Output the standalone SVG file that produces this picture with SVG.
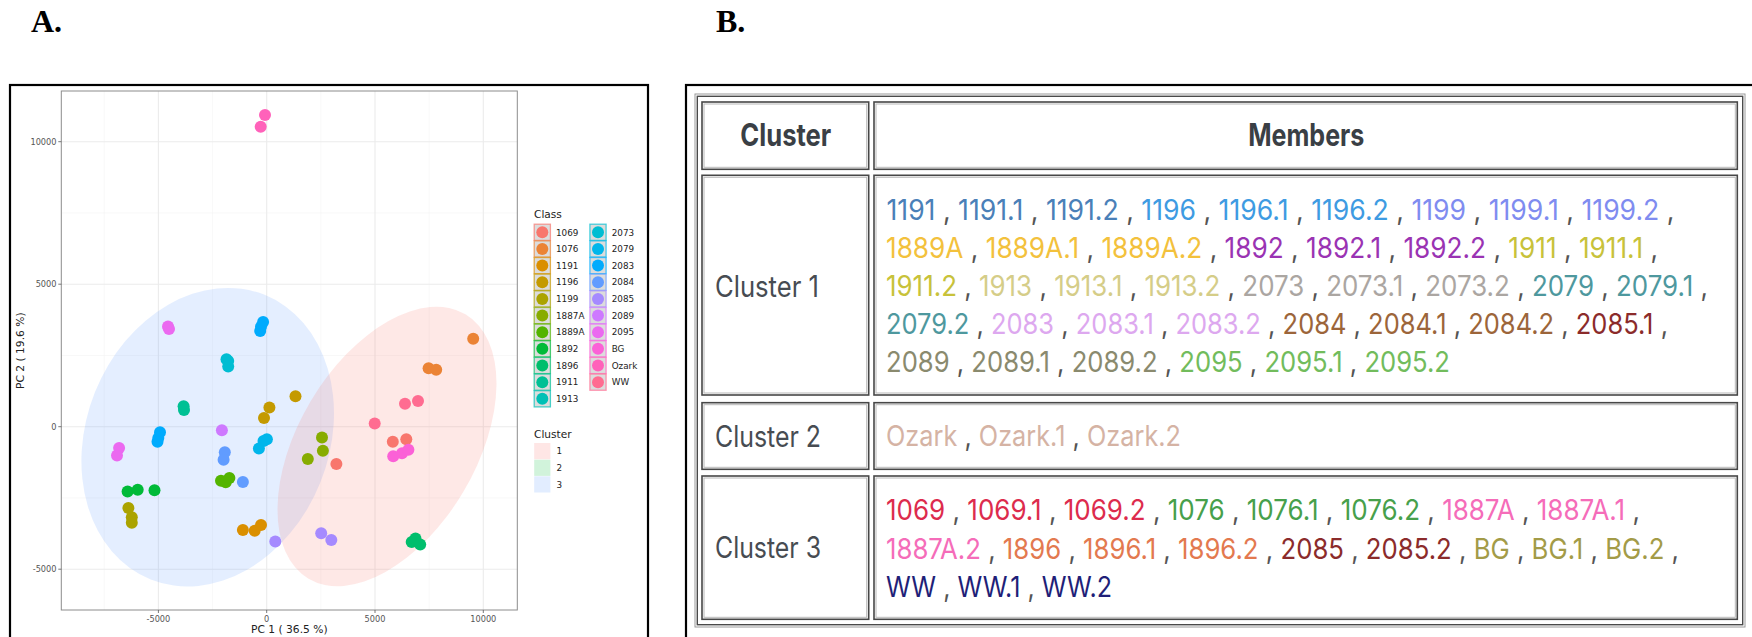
<svg xmlns="http://www.w3.org/2000/svg" width="1752" height="637" viewBox="0 0 1752 637">
<style>
.lbl{font-family:"Liberation Serif","Times New Roman",serif;font-weight:bold;font-size:32px;fill:#000}
.frame{fill:none;stroke:#000;stroke-width:2.2}
.gmaj{stroke:#ebebeb;stroke-width:1.1}
.gmin{stroke:#f4f4f4;stroke-width:0.6}
.pb{fill:none;stroke:#8c8c8c;stroke-width:1}
.tick{stroke:#555;stroke-width:0.8}
.tl{font-family:"DejaVu Sans",sans-serif;font-size:8.2px;fill:#555}
.at{font-family:"DejaVu Sans",sans-serif;font-size:10.7px;fill:#222}
.lt{font-family:"DejaVu Sans",sans-serif;font-size:10.6px;fill:#222}
.ll{font-family:"DejaVu Sans",sans-serif;font-size:8.8px;fill:#222}
.key{fill:#dcdcdc;stroke-width:1.3;stroke-opacity:0.7}
.ck{stroke:none}
.c1069{fill:#F8766D}.c1076{fill:#EB8335}.c1191{fill:#DA8F00}.c1196{fill:#C49A00}.c1199{fill:#ABA300}
.c1887A{fill:#87AC00}.c1889A{fill:#53B400}.c1892{fill:#00BA38}.c1896{fill:#00BE6C}.c1911{fill:#00C094}
.c1913{fill:#00C0B5}.c2073{fill:#00BDD2}.c2079{fill:#00B6EB}.c2083{fill:#00ABFD}.c2084{fill:#619CFF}
.c2085{fill:#A58AFF}.c2089{fill:#CE79FF}.c2095{fill:#EB69F0}.cBG{fill:#FB61D7}.cOzark{fill:#FF62BA}.cWW{fill:#FF6C91}
.cellO{fill:none;stroke:#474747;stroke-width:1.6}
.cellI{fill:none;stroke:#b8b8b8;stroke-width:1}
.th{font-family:Inter,Roboto,"Liberation Sans",sans-serif;font-weight:bold;font-size:27px;fill:#3a3f45}
.cl{font-family:Inter,Roboto,"Liberation Sans",sans-serif;font-size:25.5px;fill:#474c52}
.m{font-family:Inter,Roboto,"Liberation Sans",sans-serif;font-size:24.5px}
.s{fill:#555}
.a{fill:#4A80B8}.b{fill:#3E9BE2}.c{fill:#7F8CF0}.d{fill:#F3C13C}.e{fill:#9A33B3}.f{fill:#C8C23A}
.g{fill:#D5CD88}.h{fill:#ABA6A2}.i{fill:#4E989E}.j{fill:#DDA8EF}.k{fill:#9C653A}.l{fill:#8B2B2B}
.n{fill:#8A8A6E}.o{fill:#72BC5C}.p{fill:#D5B3A4}.q{fill:#DD2B4D}.r{fill:#47A04B}.t{fill:#F56CB9}
.u{fill:#E3794F}.v{fill:#A39B47}.w{fill:#1F1F78}
</style>

<g id="labels">
<text class="lbl" x="31" y="31.7">A.</text>
<text class="lbl" x="716" y="31.7">B.</text>
</g>

<g id="panelA">
<rect class="frame" x="10" y="85" width="638" height="600"/>
<g id="grid">
<line class="gmin" x1="104.25" y1="91" x2="104.25" y2="610"/>
<line class="gmin" x1="212.55" y1="91" x2="212.55" y2="610"/>
<line class="gmin" x1="320.85" y1="91" x2="320.85" y2="610"/>
<line class="gmin" x1="429.15" y1="91" x2="429.15" y2="610"/>
<line class="gmin" x1="61.3" y1="212.95" x2="517.3" y2="212.95"/>
<line class="gmin" x1="61.3" y1="355.45" x2="517.3" y2="355.45"/>
<line class="gmin" x1="61.3" y1="497.95" x2="517.3" y2="497.95"/>
<line class="gmaj" x1="158.4" y1="91" x2="158.4" y2="610"/>
<line class="gmaj" x1="266.7" y1="91" x2="266.7" y2="610"/>
<line class="gmaj" x1="375" y1="91" x2="375" y2="610"/>
<line class="gmaj" x1="483.3" y1="91" x2="483.3" y2="610"/>
<line class="gmaj" x1="61.3" y1="141.7" x2="517.3" y2="141.7"/>
<line class="gmaj" x1="61.3" y1="284.2" x2="517.3" y2="284.2"/>
<line class="gmaj" x1="61.3" y1="426.7" x2="517.3" y2="426.7"/>
<line class="gmaj" x1="61.3" y1="569.2" x2="517.3" y2="569.2"/>
</g>
<g id="ellipses">
<ellipse cx="207.7" cy="437.2" rx="121.4" ry="153.3" transform="rotate(21.8 207.7 437.2)" fill="#619CFF" fill-opacity="0.17"/>
<ellipse cx="387" cy="446.5" rx="88.8" ry="153.7" transform="rotate(30.7 387 446.5)" fill="#F8766D" fill-opacity="0.17"/>
</g>
<g id="points">
<circle class="cOzark" cx="265" cy="115" r="6"/><circle class="cOzark" cx="260.7" cy="126.7" r="6"/>
<circle class="c2095" cx="168" cy="326.5" r="6"/><circle class="c2095" cx="169" cy="329" r="6"/>
<circle class="c2083" cx="263.1" cy="322" r="6"/><circle class="c2083" cx="261" cy="326.7" r="6"/><circle class="c2083" cx="260.2" cy="331" r="6"/>
<circle class="c2073" cx="226.5" cy="359.3" r="6"/><circle class="c2073" cx="228.2" cy="361.1" r="6"/><circle class="c2073" cx="228.2" cy="366.5" r="6"/>
<circle class="c1911" cx="183.6" cy="406.3" r="6"/><circle class="c1911" cx="184" cy="410" r="6"/>
<circle class="c1196" cx="295.5" cy="396.2" r="6"/><circle class="c1196" cx="269.4" cy="407.4" r="6"/><circle class="c1196" cx="264" cy="417.9" r="6"/>
<circle class="c2089" cx="221.9" cy="430.2" r="6"/>
<circle class="c2083" cx="160" cy="432.3" r="6"/><circle class="c2083" cx="158.3" cy="438.1" r="6"/><circle class="c2083" cx="157.5" cy="441.7" r="6"/>
<circle class="c2095" cx="119.1" cy="447.9" r="6"/><circle class="c2095" cx="117" cy="455.5" r="6"/>
<circle class="c2079" cx="266.9" cy="439.2" r="6"/><circle class="c2079" cx="263.5" cy="441" r="6"/><circle class="c2079" cx="258.9" cy="448.6" r="6"/>
<circle class="c2084" cx="224.8" cy="452.2" r="6"/><circle class="c2084" cx="223.6" cy="459.8" r="6"/>
<circle class="c1887A" cx="322" cy="437.4" r="6"/><circle class="c1887A" cx="322.9" cy="450.8" r="6"/><circle class="c1887A" cx="307.8" cy="459.1" r="6"/>
<circle class="c1069" cx="336.4" cy="464.1" r="6"/>
<circle class="cWW" cx="374.7" cy="423.6" r="6"/><circle class="cWW" cx="405" cy="403.8" r="6"/><circle class="cWW" cx="418" cy="400.9" r="6"/>
<circle class="c1076" cx="473.2" cy="338.7" r="6"/><circle class="c1076" cx="428.6" cy="368.3" r="6"/><circle class="c1076" cx="436.2" cy="369.8" r="6"/>
<circle class="c1069" cx="392.8" cy="441.7" r="6"/><circle class="c1069" cx="406.3" cy="439.2" r="6"/>
<circle class="cBG" cx="393.2" cy="456.2" r="6"/><circle class="cBG" cx="402" cy="453.3" r="6"/><circle class="cBG" cx="408.4" cy="449.7" r="6"/>
<circle class="c1889A" cx="221" cy="480.8" r="6"/><circle class="c1889A" cx="225.7" cy="482.2" r="6"/><circle class="c1889A" cx="229.4" cy="477.9" r="6"/>
<circle class="c2084" cx="242.9" cy="481.9" r="6"/>
<circle class="c1892" cx="127.6" cy="491.6" r="6"/><circle class="c1892" cx="137.7" cy="489.8" r="6"/><circle class="c1892" cx="154.5" cy="490.2" r="6"/>
<circle class="c1199" cx="128.4" cy="507.9" r="6"/><circle class="c1199" cx="131.8" cy="517.3" r="6"/><circle class="c1199" cx="131.8" cy="522.7" r="6"/>
<circle class="c1191" cx="242.9" cy="530" r="6"/><circle class="c1191" cx="254.7" cy="530.7" r="6"/><circle class="c1191" cx="261" cy="524.9" r="6"/>
<circle class="c2085" cx="275.3" cy="541.5" r="6"/><circle class="c2085" cx="321.2" cy="533.2" r="6"/><circle class="c2085" cx="331.3" cy="540.1" r="6"/>
<circle class="c1896" cx="411.7" cy="541.9" r="6"/><circle class="c1896" cx="415.5" cy="538.6" r="6"/><circle class="c1896" cx="420.2" cy="544.4" r="6"/>
</g>
<rect class="pb" x="61.3" y="91" width="456" height="519"/>
<g id="axes">
<line class="tick" x1="158.4" y1="610" x2="158.4" y2="613"/>
<line class="tick" x1="266.7" y1="610" x2="266.7" y2="613"/>
<line class="tick" x1="375" y1="610" x2="375" y2="613"/>
<line class="tick" x1="483.3" y1="610" x2="483.3" y2="613"/>
<line class="tick" x1="58.3" y1="141.7" x2="61.3" y2="141.7"/>
<line class="tick" x1="58.3" y1="284.2" x2="61.3" y2="284.2"/>
<line class="tick" x1="58.3" y1="426.7" x2="61.3" y2="426.7"/>
<line class="tick" x1="58.3" y1="569.2" x2="61.3" y2="569.2"/>
<text class="tl" x="158.4" y="621.7" text-anchor="middle">-5000</text>
<text class="tl" x="266.7" y="621.7" text-anchor="middle">0</text>
<text class="tl" x="375" y="621.7" text-anchor="middle">5000</text>
<text class="tl" x="483.3" y="621.7" text-anchor="middle">10000</text>
<text class="tl" x="56.5" y="144.6" text-anchor="end">10000</text>
<text class="tl" x="56.5" y="287.1" text-anchor="end">5000</text>
<text class="tl" x="56.5" y="429.6" text-anchor="end">0</text>
<text class="tl" x="56.5" y="572.1" text-anchor="end">-5000</text>
<text class="at" x="289.3" y="633" text-anchor="middle">PC 1 ( 36.5 %)</text>
<text class="at" x="24" y="350.7" text-anchor="middle" transform="rotate(-90 24 350.7)">PC 2 ( 19.6 %)</text>
</g>
<g id="legendClass">
<text class="lt" x="534" y="218">Class</text>
<rect class="key" x="534.2" y="224.2" width="16.2" height="16.2" stroke="#F8766D"/><circle class="c1069" cx="542.3" cy="232.3" r="6"/><text class="ll" x="556" y="235.5">1069</text>
<rect class="key" x="534.2" y="240.85" width="16.2" height="16.2" stroke="#EB8335"/><circle class="c1076" cx="542.3" cy="248.95" r="6"/><text class="ll" x="556" y="252.15">1076</text>
<rect class="key" x="534.2" y="257.5" width="16.2" height="16.2" stroke="#DA8F00"/><circle class="c1191" cx="542.3" cy="265.6" r="6"/><text class="ll" x="556" y="268.8">1191</text>
<rect class="key" x="534.2" y="274.15" width="16.2" height="16.2" stroke="#C49A00"/><circle class="c1196" cx="542.3" cy="282.25" r="6"/><text class="ll" x="556" y="285.45">1196</text>
<rect class="key" x="534.2" y="290.8" width="16.2" height="16.2" stroke="#ABA300"/><circle class="c1199" cx="542.3" cy="298.9" r="6"/><text class="ll" x="556" y="302.1">1199</text>
<rect class="key" x="534.2" y="307.45" width="16.2" height="16.2" stroke="#87AC00"/><circle class="c1887A" cx="542.3" cy="315.55" r="6"/><text class="ll" x="556" y="318.75">1887A</text>
<rect class="key" x="534.2" y="324.1" width="16.2" height="16.2" stroke="#53B400"/><circle class="c1889A" cx="542.3" cy="332.2" r="6"/><text class="ll" x="556" y="335.4">1889A</text>
<rect class="key" x="534.2" y="340.75" width="16.2" height="16.2" stroke="#00BA38"/><circle class="c1892" cx="542.3" cy="348.85" r="6"/><text class="ll" x="556" y="352.05">1892</text>
<rect class="key" x="534.2" y="357.4" width="16.2" height="16.2" stroke="#00BE6C"/><circle class="c1896" cx="542.3" cy="365.5" r="6"/><text class="ll" x="556" y="368.7">1896</text>
<rect class="key" x="534.2" y="374.05" width="16.2" height="16.2" stroke="#00C094"/><circle class="c1911" cx="542.3" cy="382.15" r="6"/><text class="ll" x="556" y="385.35">1911</text>
<rect class="key" x="534.2" y="390.7" width="16.2" height="16.2" stroke="#00C0B5"/><circle class="c1913" cx="542.3" cy="398.8" r="6"/><text class="ll" x="556" y="402">1913</text>
<rect class="key" x="589.9" y="224.2" width="16.2" height="16.2" stroke="#00BDD2"/><circle class="c2073" cx="598" cy="232.3" r="6"/><text class="ll" x="611.7" y="235.5">2073</text>
<rect class="key" x="589.9" y="240.85" width="16.2" height="16.2" stroke="#00B6EB"/><circle class="c2079" cx="598" cy="248.95" r="6"/><text class="ll" x="611.7" y="252.15">2079</text>
<rect class="key" x="589.9" y="257.5" width="16.2" height="16.2" stroke="#00ABFD"/><circle class="c2083" cx="598" cy="265.6" r="6"/><text class="ll" x="611.7" y="268.8">2083</text>
<rect class="key" x="589.9" y="274.15" width="16.2" height="16.2" stroke="#619CFF"/><circle class="c2084" cx="598" cy="282.25" r="6"/><text class="ll" x="611.7" y="285.45">2084</text>
<rect class="key" x="589.9" y="290.8" width="16.2" height="16.2" stroke="#A58AFF"/><circle class="c2085" cx="598" cy="298.9" r="6"/><text class="ll" x="611.7" y="302.1">2085</text>
<rect class="key" x="589.9" y="307.45" width="16.2" height="16.2" stroke="#CE79FF"/><circle class="c2089" cx="598" cy="315.55" r="6"/><text class="ll" x="611.7" y="318.75">2089</text>
<rect class="key" x="589.9" y="324.1" width="16.2" height="16.2" stroke="#EB69F0"/><circle class="c2095" cx="598" cy="332.2" r="6"/><text class="ll" x="611.7" y="335.4">2095</text>
<rect class="key" x="589.9" y="340.75" width="16.2" height="16.2" stroke="#FB61D7"/><circle class="cBG" cx="598" cy="348.85" r="6"/><text class="ll" x="611.7" y="352.05">BG</text>
<rect class="key" x="589.9" y="357.4" width="16.2" height="16.2" stroke="#FF62BA"/><circle class="cOzark" cx="598" cy="365.5" r="6"/><text class="ll" x="611.7" y="368.7">Ozark</text>
<rect class="key" x="589.9" y="374.05" width="16.2" height="16.2" stroke="#FF6C91"/><circle class="cWW" cx="598" cy="382.15" r="6"/><text class="ll" x="611.7" y="385.35">WW</text>
</g>
<g id="legendCluster">
<text class="lt" x="534" y="437.5">Cluster</text>
<rect class="ck" x="534.2" y="443" width="16.2" height="16.2" fill="#F8766D" fill-opacity="0.18"/><text class="ll" x="556.6" y="454.3">1</text>
<rect class="ck" x="534.2" y="459.7" width="16.2" height="16.2" fill="#00BA38" fill-opacity="0.18"/><text class="ll" x="556.6" y="471">2</text>
<rect class="ck" x="534.2" y="476.3" width="16.2" height="16.2" fill="#619CFF" fill-opacity="0.18"/><text class="ll" x="556.6" y="487.6">3</text>
</g>
</g>

<g id="panelB">
<rect class="frame" x="686" y="85" width="1080" height="600"/>
<g id="table">
<rect fill="none" stroke="#9a9a9a" stroke-width="1" x="695" y="94" width="1050" height="533"/>
<rect fill="none" stroke="#4a4a4a" stroke-width="1.4" x="697.3" y="96.3" width="1045.4" height="528.4"/>
<g id="cell-h1"><rect class="cellO" x="702" y="102" width="166.7" height="67.3"/><rect class="cellI" x="704" y="104" width="162.7" height="63.3"/>
<text class="th" x="740.3" y="0" transform="matrix(1 0 0 1.15 0 146)" textLength="91" lengthAdjust="spacingAndGlyphs">Cluster</text></g>
<g id="cell-h2"><rect class="cellO" x="874" y="102" width="863.3" height="67.3"/><rect class="cellI" x="876" y="104" width="859.3" height="63.3"/>
<text class="th" x="1248.3" y="0" transform="matrix(1 0 0 1.15 0 146)" textLength="116" lengthAdjust="spacingAndGlyphs">Members</text></g>
<g id="cell-r1c1"><rect class="cellO" x="702" y="175.3" width="166.7" height="219.7"/><rect class="cellI" x="704" y="177.3" width="162.7" height="215.7"/>
<text class="cl" x="715" y="0" transform="matrix(1 0 0 1.16 0 296.5)" textLength="104" lengthAdjust="spacingAndGlyphs">Cluster 1</text></g>
<g id="cell-r1c2"><rect class="cellO" x="874" y="175.3" width="863.3" height="219.7"/><rect class="cellI" x="876" y="177.3" width="859.3" height="215.7"/>
<text class="m" x="886.5" y="0" transform="matrix(1 0 0 1.16 0 220)" textLength="788" lengthAdjust="spacingAndGlyphs"><tspan class="a">1191</tspan><tspan class="s"> , </tspan><tspan class="a">1191.1</tspan><tspan class="s"> , </tspan><tspan class="a">1191.2</tspan><tspan class="s"> , </tspan><tspan class="b">1196</tspan><tspan class="s"> , </tspan><tspan class="b">1196.1</tspan><tspan class="s"> , </tspan><tspan class="b">1196.2</tspan><tspan class="s"> , </tspan><tspan class="c">1199</tspan><tspan class="s"> , </tspan><tspan class="c">1199.1</tspan><tspan class="s"> , </tspan><tspan class="c">1199.2</tspan><tspan class="s"> ,</tspan></text>
<text class="m" x="886" y="0" transform="matrix(1 0 0 1.16 0 258.3)" textLength="772" lengthAdjust="spacingAndGlyphs"><tspan class="d">1889A</tspan><tspan class="s"> , </tspan><tspan class="d">1889A.1</tspan><tspan class="s"> , </tspan><tspan class="d">1889A.2</tspan><tspan class="s"> , </tspan><tspan class="e">1892</tspan><tspan class="s"> , </tspan><tspan class="e">1892.1</tspan><tspan class="s"> , </tspan><tspan class="e">1892.2</tspan><tspan class="s"> , </tspan><tspan class="f">1911</tspan><tspan class="s"> , </tspan><tspan class="f">1911.1</tspan><tspan class="s"> ,</tspan></text>
<text class="m" x="886" y="0" transform="matrix(1 0 0 1.16 0 296.3)" textLength="822" lengthAdjust="spacingAndGlyphs"><tspan class="f">1911.2</tspan><tspan class="s"> , </tspan><tspan class="g">1913</tspan><tspan class="s"> , </tspan><tspan class="g">1913.1</tspan><tspan class="s"> , </tspan><tspan class="g">1913.2</tspan><tspan class="s"> , </tspan><tspan class="h">2073</tspan><tspan class="s"> , </tspan><tspan class="h">2073.1</tspan><tspan class="s"> , </tspan><tspan class="h">2073.2</tspan><tspan class="s"> , </tspan><tspan class="i">2079</tspan><tspan class="s"> , </tspan><tspan class="i">2079.1</tspan><tspan class="s"> ,</tspan></text>
<text class="m" x="886" y="0" transform="matrix(1 0 0 1.16 0 334)" textLength="782" lengthAdjust="spacingAndGlyphs"><tspan class="i">2079.2</tspan><tspan class="s"> , </tspan><tspan class="j">2083</tspan><tspan class="s"> , </tspan><tspan class="j">2083.1</tspan><tspan class="s"> , </tspan><tspan class="j">2083.2</tspan><tspan class="s"> , </tspan><tspan class="k">2084</tspan><tspan class="s"> , </tspan><tspan class="k">2084.1</tspan><tspan class="s"> , </tspan><tspan class="k">2084.2</tspan><tspan class="s"> , </tspan><tspan class="l">2085.1</tspan><tspan class="s"> ,</tspan></text>
<text class="m" x="886" y="0" transform="matrix(1 0 0 1.16 0 371.7)" textLength="564" lengthAdjust="spacingAndGlyphs"><tspan class="n">2089</tspan><tspan class="s"> , </tspan><tspan class="n">2089.1</tspan><tspan class="s"> , </tspan><tspan class="n">2089.2</tspan><tspan class="s"> , </tspan><tspan class="o">2095</tspan><tspan class="s"> , </tspan><tspan class="o">2095.1</tspan><tspan class="s"> , </tspan><tspan class="o">2095.2</tspan></text></g>
<g id="cell-r2c1"><rect class="cellO" x="702" y="402.7" width="166.7" height="66.6"/><rect class="cellI" x="704" y="404.7" width="162.7" height="62.6"/>
<text class="cl" x="715" y="0" transform="matrix(1 0 0 1.16 0 446.5)" textLength="106" lengthAdjust="spacingAndGlyphs">Cluster 2</text></g>
<g id="cell-r2c2"><rect class="cellO" x="874" y="402.7" width="863.3" height="66.6"/><rect class="cellI" x="876" y="404.7" width="859.3" height="62.6"/>
<text class="m" x="886" y="0" transform="matrix(1 0 0 1.16 0 446)" textLength="295" lengthAdjust="spacingAndGlyphs"><tspan class="p">Ozark</tspan><tspan class="s"> , </tspan><tspan class="p">Ozark.1</tspan><tspan class="s"> , </tspan><tspan class="p">Ozark.2</tspan></text></g>
<g id="cell-r3c1"><rect class="cellO" x="702" y="476" width="166.7" height="143.3"/><rect class="cellI" x="704" y="478" width="162.7" height="139.3"/>
<text class="cl" x="715" y="0" transform="matrix(1 0 0 1.16 0 558.3)" textLength="106" lengthAdjust="spacingAndGlyphs">Cluster 3</text></g>
<g id="cell-r3c2"><rect class="cellO" x="874" y="476" width="863.3" height="143.3"/><rect class="cellI" x="876" y="478" width="859.3" height="139.3"/>
<text class="m" x="886" y="0" transform="matrix(1 0 0 1.16 0 520)" textLength="754" lengthAdjust="spacingAndGlyphs"><tspan class="q">1069</tspan><tspan class="s"> , </tspan><tspan class="q">1069.1</tspan><tspan class="s"> , </tspan><tspan class="q">1069.2</tspan><tspan class="s"> , </tspan><tspan class="r">1076</tspan><tspan class="s"> , </tspan><tspan class="r">1076.1</tspan><tspan class="s"> , </tspan><tspan class="r">1076.2</tspan><tspan class="s"> , </tspan><tspan class="t">1887A</tspan><tspan class="s"> , </tspan><tspan class="t">1887A.1</tspan><tspan class="s"> ,</tspan></text>
<text class="m" x="886" y="0" transform="matrix(1 0 0 1.16 0 558.5)" textLength="793" lengthAdjust="spacingAndGlyphs"><tspan class="t">1887A.2</tspan><tspan class="s"> , </tspan><tspan class="u">1896</tspan><tspan class="s"> , </tspan><tspan class="u">1896.1</tspan><tspan class="s"> , </tspan><tspan class="u">1896.2</tspan><tspan class="s"> , </tspan><tspan class="l">2085</tspan><tspan class="s"> , </tspan><tspan class="l">2085.2</tspan><tspan class="s"> , </tspan><tspan class="v">BG</tspan><tspan class="s"> , </tspan><tspan class="v">BG.1</tspan><tspan class="s"> , </tspan><tspan class="v">BG.2</tspan><tspan class="s"> ,</tspan></text>
<text class="m" x="886" y="0" transform="matrix(1 0 0 1.16 0 596.5)" textLength="226" lengthAdjust="spacingAndGlyphs"><tspan class="w">WW</tspan><tspan class="s"> , </tspan><tspan class="w">WW.1</tspan><tspan class="s"> , </tspan><tspan class="w">WW.2</tspan></text></g>
</g>
</g>
</svg>
